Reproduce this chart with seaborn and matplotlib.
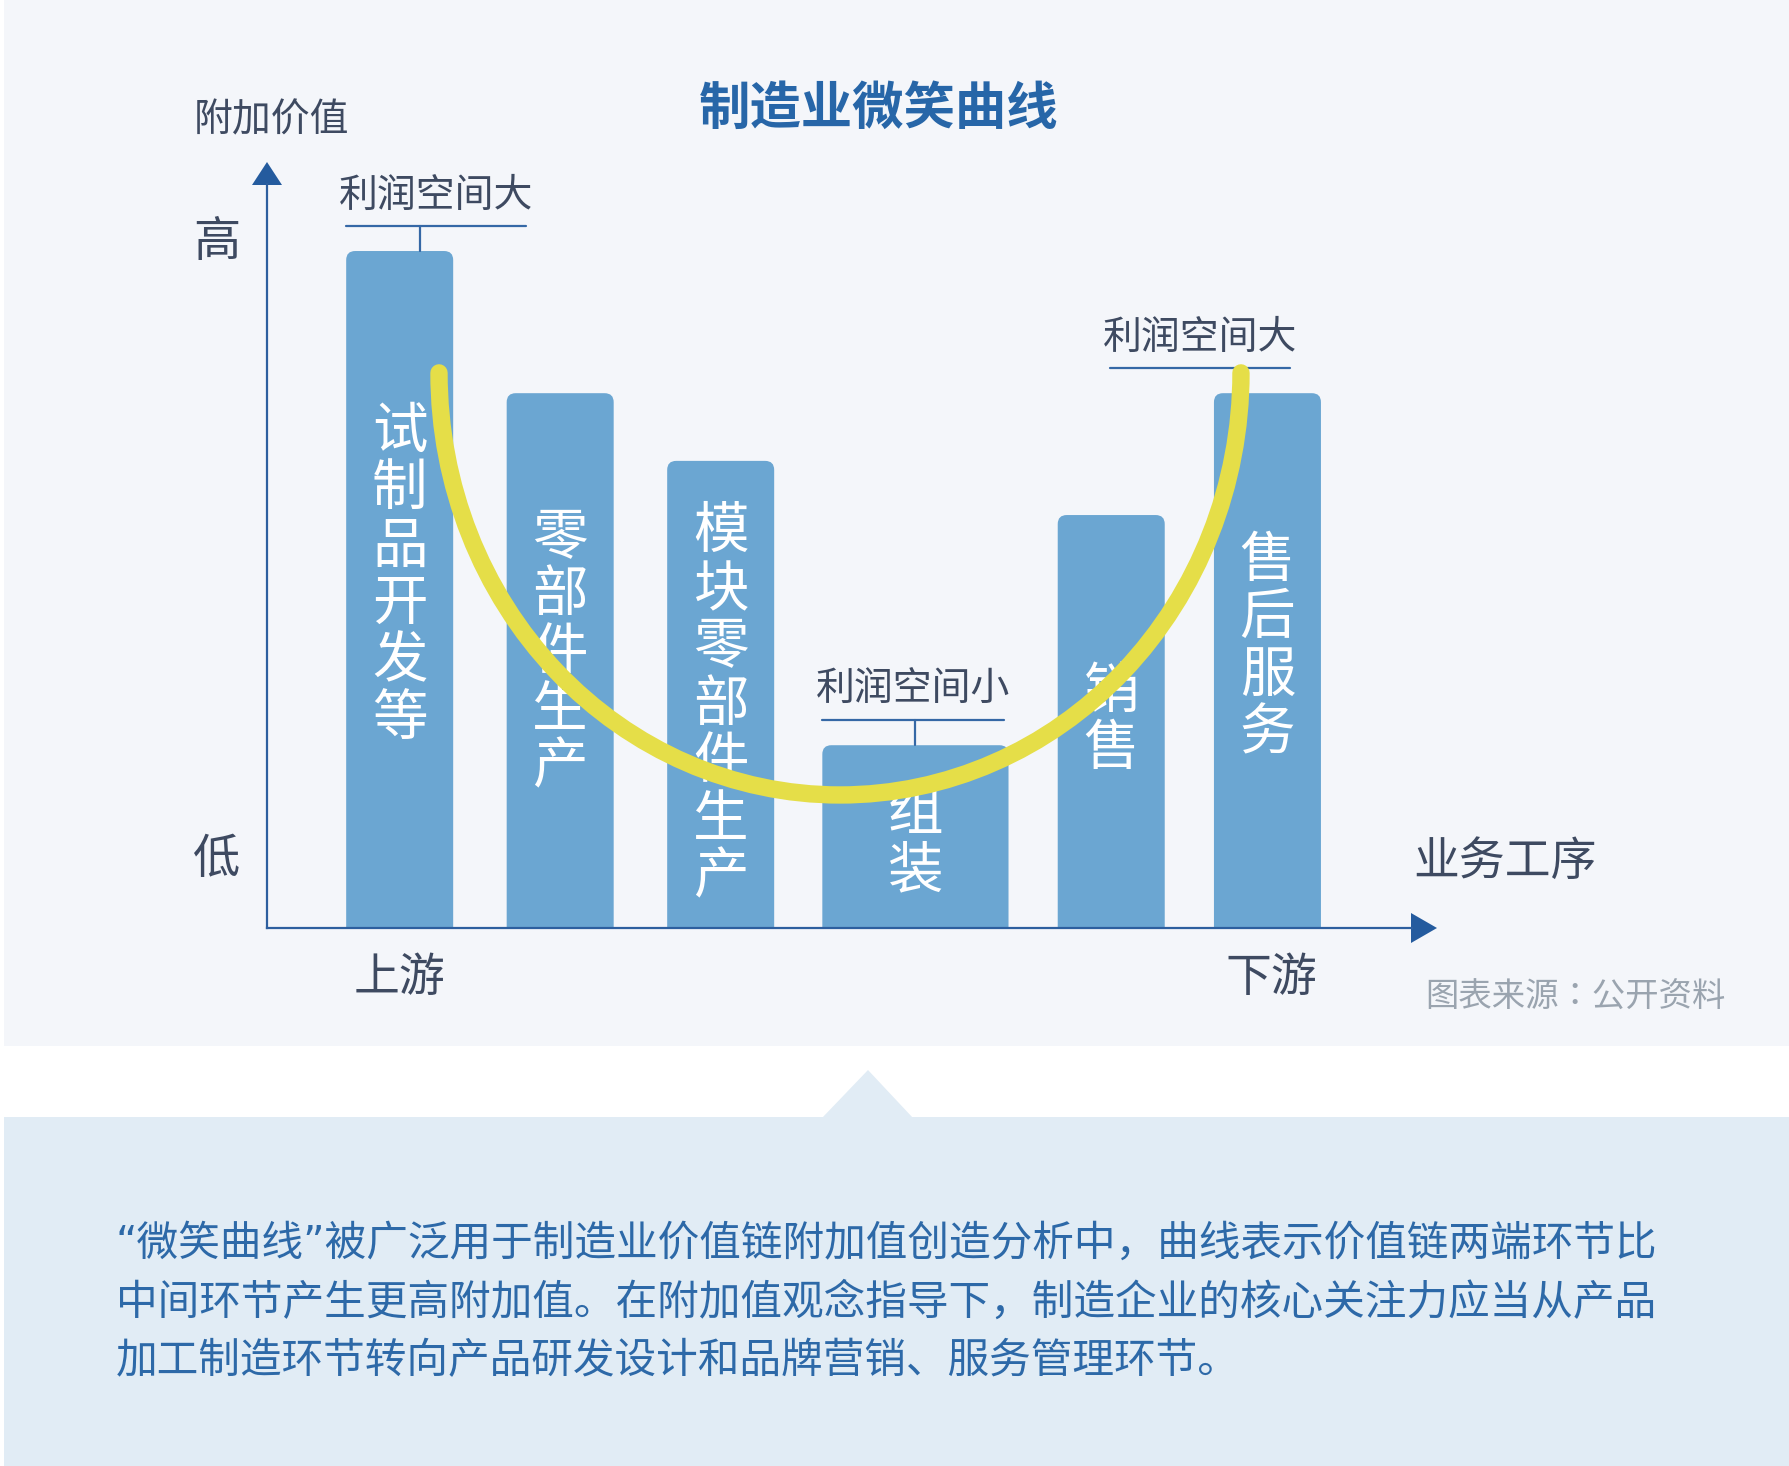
import matplotlib
matplotlib.use("Agg")
import matplotlib.pyplot as plt
import numpy as np
import seaborn as sns
from matplotlib.patches import Rectangle, Polygon, FancyBboxPatch, Arc

sns.set_style("white")
plt.rcParams['font.family'] = ['Noto Sans CJK SC', 'DejaVu Sans']

# ---- data ----
stages = ["试制品开发等", "零部件生产", "模块零部件生产", "组装", "销售", "售后服务"]
value_added = [100, 79, 69, 27, 61, 79]
profit_labels = ["利润空间大", "利润空间小", "利润空间大"]
profit_bars = [0, 3, 5]
title = "制造业微笑曲线"
y_title = "附加价值"
x_title = "业务工序"
note_lines = [
    "“微笑曲线”被广泛用于制造业价值链附加值创造分析中，曲线表示价值链两端环节比",
    "中间环节产生更高附加值。在附加值观念指导下，制造企业的核心关注力应当从产品",
    "加工制造环节转向产品研发设计和品牌营销、服务管理环节。",
]
source = "图表来源：公开资料"

# ---- colors / layout ----
bg_top = "#F4F6FA"
bg_bottom = "#E1ECF5"
bar_color = "#6BA6D2"
curve_color = "#E5DE48"
axis_color = "#2D5F9F"
label_color = "#3E4A61"
blue_text = "#2D69A8"

W, H = 1790, 1466
ax_l, ax_r, ax_b, ax_t = 267, 1412, 928, 184
ppx = 107.0              # pixels per x unit (one bar width)
ymax = 109.9
ppy = (ax_b - ax_t) / ymax

bar_w = [1, 1, 1, 1.74, 1, 1]
gaps = [0.5, 0.5, 0.45, 0.46, 0.46]
first_left = 0.74
text_drop = [152, 116, 43, 40, 148, 139]   # px from bar top to first char
pitch = 57.5                                # px between stacked chars

fig = plt.figure(figsize=(W / 100, H / 100), dpi=100)
fig.patch.set_facecolor("white")

# background / decoration layer in pixel coords
bg = fig.add_axes([0, 0, 1, 1], zorder=0)
bg.set_xlim(0, W)
bg.set_ylim(H, 0)
bg.axis("off")
bg.add_patch(Rectangle((4, 0), W - 4, 1046, color=bg_top, lw=0))
bg.add_patch(Rectangle((4, 1117), W - 4, H - 1117, color=bg_bottom, lw=0))
bg.add_patch(Polygon([(822, 1118), (913, 1118), (868, 1070)], closed=True, color=bg_bottom, lw=0))

# axis arrows
bg.add_patch(Polygon([(252, 185), (282, 185), (267, 162)], closed=True, color="#245B9E", lw=0))
bg.add_patch(Polygon([(1411, 913), (1411, 943), (1437, 928)], closed=True, color="#245B9E", lw=0))

bg.text(879, 108, title, ha="center", va="center", fontsize=37, fontweight="heavy", color="#2766A8")
bg.text(194, 120, y_title, ha="left", va="center", fontsize=28, color=label_color)
bg.text(217, 243, "高", ha="center", va="center", fontsize=34, color=label_color)
bg.text(217, 860, "低", ha="center", va="center", fontsize=34, color=label_color)
bg.text(1413, 862, x_title, ha="left", va="center", fontsize=33, color=label_color)
bg.text(400, 978, "上游", ha="center", va="center", fontsize=33, color=label_color)
bg.text(1271, 978, "下游", ha="center", va="center", fontsize=33, color=label_color)
bg.text(1425, 997, source, ha="left", va="center", fontsize=24, color="#9AA4AF",
        family=["Noto Sans CJK JP", "DejaVu Sans"])
for i, line in enumerate(note_lines):
    fam = ["DejaVu Sans", "Noto Sans CJK SC"] if i == 0 else ["Noto Sans CJK SC", "DejaVu Sans"]
    bg.text(116, 1244 + i * 59, line, ha="left", va="center", fontsize=30,
            color=blue_text, family=fam)

# chart layer
ax = fig.add_axes([ax_l / W, 1 - ax_b / H, (ax_r - ax_l) / W, (ax_b - ax_t) / H], zorder=1)
ax.set_facecolor("none")
sns.barplot(x=stages, y=value_added, color=bar_color, saturation=1, ax=ax)

lefts = [first_left]
for i in range(1, len(bar_w)):
    lefts.append(lefts[-1] + bar_w[i - 1] + gaps[i - 1])

# swap seaborn rectangles for rounded ones at the laid-out positions
rad = 9.0
for i, p in enumerate(list(ax.patches)):
    h = p.get_height()
    p.remove()
    fb = FancyBboxPatch((lefts[i], -3), bar_w[i], h + 3,
                        boxstyle="round,pad=0,rounding_size=%f" % (rad / ppx),
                        mutation_aspect=ppx / ppy, facecolor=bar_color, lw=0, zorder=1)
    ax.add_patch(fb)
    cx = lefts[i] + bar_w[i] / 2
    top = h - text_drop[i] / ppy
    for k, ch in enumerate(stages[i]):
        ax.text(cx, top - (k + 0.5) * pitch / ppy, ch, ha="center", va="center",
                fontsize=40, color="white", zorder=3)

# profit brackets
spans = [(0.0, 1.68), (0.0, 1.70), (-0.97, 0.71)]
ticks_at = [0.69, 0.87, 0.24]
for lab, bi, sp, tk in zip(profit_labels, profit_bars, spans, ticks_at):
    top = value_added[bi]
    ly = top + 25 / ppy
    x0, x1 = lefts[bi] + sp[0], lefts[bi] + sp[1]
    ax.plot([x0, x1], [ly, ly], color="#3568A6", lw=1.6, zorder=2, clip_on=False)
    ax.plot([lefts[bi] + tk] * 2, [top, ly], color="#3568A6", lw=1.6, zorder=2, clip_on=False)
    ax.text((x0 + x1) / 2, ly + 30 / ppy, lab, ha="center", va="center",
            fontsize=28, color=label_color, zorder=2)

# smile curve
smile = Arc((5.355, 82.0), 7.495, 124.7, theta1=180, theta2=360,
            color=curve_color, lw=12.5, zorder=4)
smile.set_capstyle("round")
ax.add_patch(smile)

ax.set_xlim(0, (ax_r - ax_l) / ppx)
ax.set_ylim(0, ymax)
ax.set_xticks([])
ax.set_yticks([])
ax.set_xlabel("")
ax.set_ylabel("")
for s in ["top", "right"]:
    ax.spines[s].set_visible(False)
for s in ["left", "bottom"]:
    ax.spines[s].set_color(axis_color)
    ax.spines[s].set_linewidth(1.6)

fig.savefig("out.png", dpi=100, facecolor=fig.get_facecolor())
